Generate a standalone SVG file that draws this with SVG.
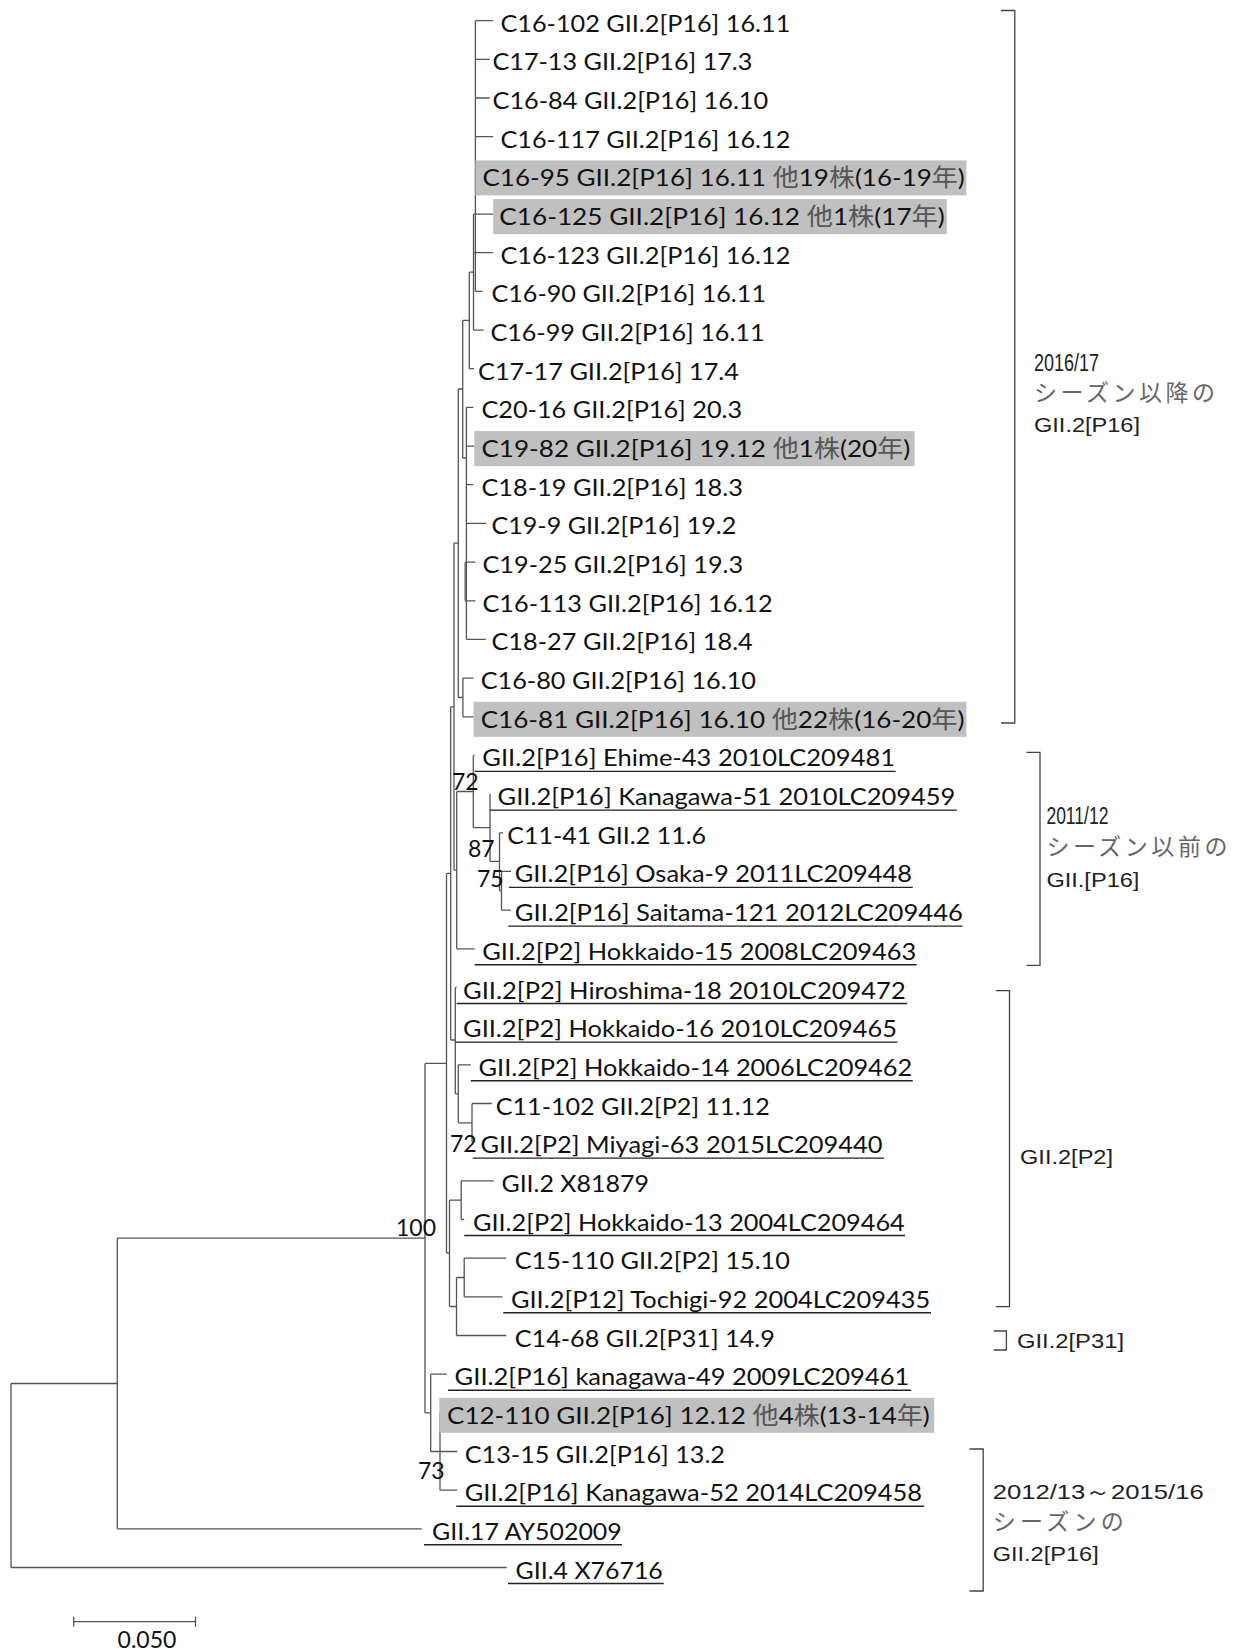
<svg xmlns="http://www.w3.org/2000/svg" width="1235" height="1652" viewBox="0 0 1235 1652">
<style>
.t{font-family:Lato,"Noto Sans CJK JP",sans-serif;font-size:24px;fill:#111}
.cj{fill:#555}
.ln{fill:none;stroke:#555;stroke-width:1.3}
.ul{fill:none;stroke:#222;stroke-width:1.4}
.hl{fill:#c0c0c0}
.br{fill:none;stroke:#444;stroke-width:1.3}
.rl{font-family:"Liberation Sans",Arial,sans-serif;font-size:21px;fill:#222}
.rd{font-family:"Liberation Sans",Arial,sans-serif;font-size:23px;fill:#222}
.rj{font-family:"Noto Sans CJK JP",sans-serif;font-size:23px;fill:#666}
.bs{font-family:Lato,sans-serif;font-size:23px;fill:#111}
</style>
<rect width="1235" height="1652" fill="#fff"/>
<g id="connectors" class="ln">
<path d="M475.4 20.7V291.4M475.4 20.7H493.2M475.4 59.4H489.6M475.4 98H489.6M475.4 136.7H493.2M475.4 175.4H477M475.4 291.4H482.5"/>
<path d="M473.5 214.1V330.1M473.5 214.1H493.2M473.5 252.7H493.2M473.5 330.1H483.6"/>
<path d="M469.3 272.1V368.7M469.3 272.1H473.5M469.3 368.7H474"/>
<path d="M462.7 320.4V458M462.7 320.4H469.3M462.7 458H466.4"/>
<path d="M466.4 407.4V639.4M466.4 407.4H473.3M466.4 446.1H474.3M466.4 484.7H473.3M466.4 523.4H486M466.4 639.4H486"/>
<path d="M465.2 562.1V600.8M465.2 562.1H475.4M465.2 600.8H475.4"/>
<path d="M458.3 389V697.5M458.3 389H462.7M458.3 697.5H462.9"/>
<path d="M462.9 678.1V716.8M462.9 678.1H473.6M462.9 716.8H473.6"/>
<path d="M454 543.2V870.2M454 543.2H458.3M454 870.2H456.7"/>
<path d="M456.7 791.5V948.8M456.7 791.5H473.3M456.7 948.8H474.6"/>
<path d="M473.3 755.4V827.7M473.3 755.4H474.6M473.3 827.7H490"/>
<path d="M490 794.1V861.3M490 861.3H499.5"/>
<path d="M499.5 832.8V890.8M499.5 832.8H503M499.5 890.8H501.5"/>
<path d="M501.5 871.4V910.1M501.5 871.4H511M501.5 910.1H511"/>
<path d="M450.7 706.8V1040M450.7 706.8H454M450.7 1040H455.3"/>
<path d="M455.3 987.5V1093.8M455.3 987.5H456.6M455.3 1093.8H458.3"/>
<path d="M458.3 1064.8V1122.8M458.3 1064.8H470.8M458.3 1122.8H472"/>
<path d="M472 1103.5V1142.1M472 1103.5H491.8"/>
<path d="M446.5 873.4V1253.2M446.5 873.4H450.7M446.5 1253.2H449.5"/>
<path d="M449.5 1200.2V1306.5M449.5 1200.2H461.2M449.5 1306.5H456.5"/>
<path d="M461.2 1180.8V1219.5M461.2 1180.8H493.8M461.2 1219.5H464.2"/>
<path d="M456.5 1277.5V1335.5M456.5 1277.5H464.2M456.5 1335.5H506.3"/>
<path d="M464.2 1258.1V1296.8M464.2 1258.1H506.3M464.2 1296.8H502.5"/>
<path d="M425 1063.4V1412.9M425 1063.4H446.5M425 1412.9H430.7"/>
<path d="M430.7 1374.2V1451.5M430.7 1374.2H447M430.7 1451.5H440"/>
<path d="M440 1412.8V1490.2M440 1451.5H457.3M440 1490.2H457.3"/>
<path d="M117.3 1238.2V1528.8M117.3 1238.2H425M117.3 1528.8H421.7"/>
<path d="M11 1383.5V1567.5M11 1383.5H117.3M11 1567.5H506.7"/>
</g>
<g id="bootstrap">
<text class="bs" x="452" y="790">72</text>
<text class="bs" x="468" y="857">87</text>
<text class="bs" x="477" y="887">75</text>
<text class="bs" x="450" y="1152">72</text>
<text class="bs" x="396" y="1236">100</text>
<text class="bs" x="418" y="1479">73</text>
</g>
<g id="n1"><text class="t" x="500.4" y="31.7" textLength="289.9" lengthAdjust="spacingAndGlyphs">C16-102 GII.2[P16] 16.11</text></g>
<g id="n2"><text class="t" x="492.5" y="70.4" textLength="259.9" lengthAdjust="spacingAndGlyphs">C17-13 GII.2[P16] 17.3</text></g>
<g id="n3"><text class="t" x="492.5" y="109" textLength="275.7" lengthAdjust="spacingAndGlyphs">C16-84 GII.2[P16] 16.10</text></g>
<g id="n4"><text class="t" x="500.4" y="147.7" textLength="289.9" lengthAdjust="spacingAndGlyphs">C16-117 GII.2[P16] 16.12</text></g>
<g id="n5"><rect class="hl" x="475.4" y="160.4" width="491" height="35"/><text class="t" x="482.5" y="186.4" textLength="482.3" lengthAdjust="spacingAndGlyphs">C16-95 GII.2[P16] 16.11 <tspan class="cj">他</tspan>19<tspan class="cj">株</tspan>(16-19<tspan class="cj">年</tspan>)</text></g>
<g id="n6"><rect class="hl" x="493.2" y="199.1" width="453.6" height="35"/><text class="t" x="499.3" y="225.1" textLength="445.5" lengthAdjust="spacingAndGlyphs">C16-125 GII.2[P16] 16.12 <tspan class="cj">他</tspan>1<tspan class="cj">株</tspan>(17<tspan class="cj">年</tspan>)</text></g>
<g id="n7"><text class="t" x="500.4" y="263.7" textLength="289.9" lengthAdjust="spacingAndGlyphs">C16-123 GII.2[P16] 16.12</text></g>
<g id="n8"><text class="t" x="491.4" y="302.4" textLength="274.6" lengthAdjust="spacingAndGlyphs">C16-90 GII.2[P16] 16.11</text></g>
<g id="n9"><text class="t" x="490.4" y="341.1" textLength="274.1" lengthAdjust="spacingAndGlyphs">C16-99 GII.2[P16] 16.11</text></g>
<g id="n10"><text class="t" x="478" y="379.7" textLength="261" lengthAdjust="spacingAndGlyphs">C17-17 GII.2[P16] 17.4</text></g>
<g id="n11"><text class="t" x="481.4" y="418.4" textLength="260.8" lengthAdjust="spacingAndGlyphs">C20-16 GII.2[P16] 20.3</text></g>
<g id="n12"><rect class="hl" x="474.3" y="431.1" width="440.3" height="35"/><text class="t" x="481.4" y="457.1" textLength="428.9" lengthAdjust="spacingAndGlyphs">C19-82 GII.2[P16] 19.12 <tspan class="cj">他</tspan>1<tspan class="cj">株</tspan>(20<tspan class="cj">年</tspan>)</text></g>
<g id="n13"><text class="t" x="481.4" y="495.7" textLength="261.6" lengthAdjust="spacingAndGlyphs">C18-19 GII.2[P16] 18.3</text></g>
<g id="n14"><text class="t" x="491.4" y="534.4" textLength="244.9" lengthAdjust="spacingAndGlyphs">C19-9 GII.2[P16] 19.2</text></g>
<g id="n15"><text class="t" x="482.5" y="573.1" textLength="260.7" lengthAdjust="spacingAndGlyphs">C19-25 GII.2[P16] 19.3</text></g>
<g id="n16"><text class="t" x="482.5" y="611.8" textLength="290.1" lengthAdjust="spacingAndGlyphs">C16-113 GII.2[P16] 16.12</text></g>
<g id="n17"><text class="t" x="491.4" y="650.4" textLength="261.4" lengthAdjust="spacingAndGlyphs">C18-27 GII.2[P16] 18.4</text></g>
<g id="n18"><text class="t" x="480.7" y="689.1" textLength="275.3" lengthAdjust="spacingAndGlyphs">C16-80 GII.2[P16] 16.10</text></g>
<g id="n19"><rect class="hl" x="473.6" y="701.8" width="492.8" height="35"/><text class="t" x="480.7" y="727.8" textLength="483.7" lengthAdjust="spacingAndGlyphs">C16-81 GII.2[P16] 16.10 <tspan class="cj">他</tspan>22<tspan class="cj">株</tspan>(16-20<tspan class="cj">年</tspan>)</text></g>
<g id="n20"><text class="t" x="482.3" y="766.4" textLength="412.7" lengthAdjust="spacingAndGlyphs">GII.2[P16] Ehime-43 2010LC209481</text><path class="ul" d="M474.6 771.4H895.6"/></g>
<g id="n21"><text class="t" x="497.6" y="805.1" textLength="457.8" lengthAdjust="spacingAndGlyphs">GII.2[P16] Kanagawa-51 2010LC209459</text><path class="ul" d="M490 810.1H956.8"/></g>
<g id="n22"><text class="t" x="507.2" y="843.8" textLength="198.9" lengthAdjust="spacingAndGlyphs">C11-41 GII.2 11.6</text></g>
<g id="n23"><text class="t" x="514.8" y="882.4" textLength="397.2" lengthAdjust="spacingAndGlyphs">GII.2[P16] Osaka-9 2011LC209448</text><path class="ul" d="M509 887.4H912.8"/></g>
<g id="n24"><text class="t" x="514.8" y="921.1" textLength="448.1" lengthAdjust="spacingAndGlyphs">GII.2[P16] Saitama-121 2012LC209446</text><path class="ul" d="M508.3 926.1H962.6"/></g>
<g id="n25"><text class="t" x="482.3" y="959.8" textLength="434" lengthAdjust="spacingAndGlyphs">GII.2[P2] Hokkaido-15 2008LC209463</text><path class="ul" d="M474.6 964.8H916.6"/></g>
<g id="n26"><text class="t" x="463.1" y="998.5" textLength="442.6" lengthAdjust="spacingAndGlyphs">GII.2[P2] Hiroshima-18 2010LC209472</text><path class="ul" d="M456.6 1003.5H907"/></g>
<g id="n27"><text class="t" x="463.1" y="1037.1" textLength="433.9" lengthAdjust="spacingAndGlyphs">GII.2[P2] Hokkaido-16 2010LC209465</text><path class="ul" d="M455.5 1042.1H897.5"/></g>
<g id="n28"><text class="t" x="478.5" y="1075.8" textLength="433.8" lengthAdjust="spacingAndGlyphs">GII.2[P2] Hokkaido-14 2006LC209462</text><path class="ul" d="M470.8 1080.8H912.8"/></g>
<g id="n29"><text class="t" x="495.7" y="1114.5" textLength="274.1" lengthAdjust="spacingAndGlyphs">C11-102 GII.2[P2] 11.12</text></g>
<g id="n30"><text class="t" x="480.4" y="1153.1" textLength="402.2" lengthAdjust="spacingAndGlyphs">GII.2[P2] Miyagi-63 2015LC209440</text><path class="ul" d="M472.7 1158.1H884"/></g>
<g id="n31"><text class="t" x="501.4" y="1191.8" textLength="147.6" lengthAdjust="spacingAndGlyphs">GII.2 X81879</text></g>
<g id="n32"><text class="t" x="473" y="1230.5" textLength="431.7" lengthAdjust="spacingAndGlyphs">GII.2[P2] Hokkaido-13 2004LC209464</text><path class="ul" d="M464.2 1235.5H905"/></g>
<g id="n33"><text class="t" x="514.7" y="1269.1" textLength="275.2" lengthAdjust="spacingAndGlyphs">C15-110 GII.2[P2] 15.10</text></g>
<g id="n34"><text class="t" x="510.9" y="1307.8" textLength="419.3" lengthAdjust="spacingAndGlyphs">GII.2[P12] Tochigi-92 2004LC209435</text><path class="ul" d="M503.2 1312.8H931"/></g>
<g id="n35"><text class="t" x="514.7" y="1346.5" textLength="260.2" lengthAdjust="spacingAndGlyphs">C14-68 GII.2[P31] 14.9</text></g>
<g id="n36"><text class="t" x="454.6" y="1385.2" textLength="454.7" lengthAdjust="spacingAndGlyphs">GII.2[P16] kanagawa-49 2009LC209461</text><path class="ul" d="M448.1 1390.2H911.2"/></g>
<g id="n37"><rect class="hl" x="439.3" y="1397.8" width="494.9" height="35"/><text class="t" x="447" y="1423.8" textLength="482.8" lengthAdjust="spacingAndGlyphs">C12-110 GII.2[P16] 12.12 <tspan class="cj">他</tspan>4<tspan class="cj">株</tspan>(13-14<tspan class="cj">年</tspan>)</text></g>
<g id="n38"><text class="t" x="464.7" y="1462.5" textLength="260.3" lengthAdjust="spacingAndGlyphs">C13-15 GII.2[P16] 13.2</text></g>
<g id="n39"><text class="t" x="464.7" y="1501.2" textLength="457.3" lengthAdjust="spacingAndGlyphs">GII.2[P16] Kanagawa-52 2014LC209458</text><path class="ul" d="M456.3 1506.2H924.2"/></g>
<g id="n40"><text class="t" x="432" y="1539.8" textLength="189.7" lengthAdjust="spacingAndGlyphs">GII.17 AY502009</text><path class="ul" d="M424 1544.8H622"/></g>
<g id="n41"><text class="t" x="515.6" y="1578.5" textLength="147.2" lengthAdjust="spacingAndGlyphs">GII.4 X76716</text><path class="ul" d="M508 1583.5H663.8"/></g>
<g id="group-2016">
<path class="br" d="M1001 10.5H1014.8V723H1001"/>
<text class="rd" x="1034" y="371" textLength="65" lengthAdjust="spacingAndGlyphs">2016/17</text>
<text class="rj" x="1034" y="401" textLength="181" lengthAdjust="spacing">シーズン以降の</text>
<text class="rl" x="1034" y="432" textLength="106" lengthAdjust="spacingAndGlyphs">GII.2[P16]</text>
</g>
<g id="group-2011">
<path class="br" d="M1026.4 752.4H1040V965.3H1026.4"/>
<text class="rd" x="1046.4" y="824" textLength="62" lengthAdjust="spacingAndGlyphs">2011/12</text>
<text class="rj" x="1046.4" y="855" textLength="181" lengthAdjust="spacing">シーズン以前の</text>
<text class="rl" x="1046.4" y="887" textLength="93" lengthAdjust="spacingAndGlyphs">GII.[P16]</text>
</g>
<g id="group-P2">
<path class="br" d="M995.8 990.6H1009.5V1306.7H995.8"/>
<text class="rl" x="1020" y="1164" textLength="93" lengthAdjust="spacingAndGlyphs">GII.2[P2]</text>
</g>
<g id="group-P31">
<path class="br" d="M993.7 1331H1006.4V1350H993.7"/>
<text class="rl" x="1017" y="1348" textLength="107" lengthAdjust="spacingAndGlyphs">GII.2[P31]</text>
</g>
<g id="group-2012">
<path class="br" d="M969.5 1449H983.2V1591H969.5"/>
<text class="rl" x="992.7" y="1499" textLength="211" lengthAdjust="spacingAndGlyphs">2012/13～2015/16</text>
<text class="rj" x="992.7" y="1530" textLength="131" lengthAdjust="spacing">シーズンの</text>
<text class="rl" x="992.7" y="1561" textLength="106" lengthAdjust="spacingAndGlyphs">GII.2[P16]</text>
</g>
<g id="scale-bar">
<path class="ln" d="M73.7 1621.7H195.5M73.7 1616.7V1626.7M195.5 1616.7V1626.7"/>
<text class="bs" x="147" y="1648" text-anchor="middle">0.050</text>
</g>
</svg>
